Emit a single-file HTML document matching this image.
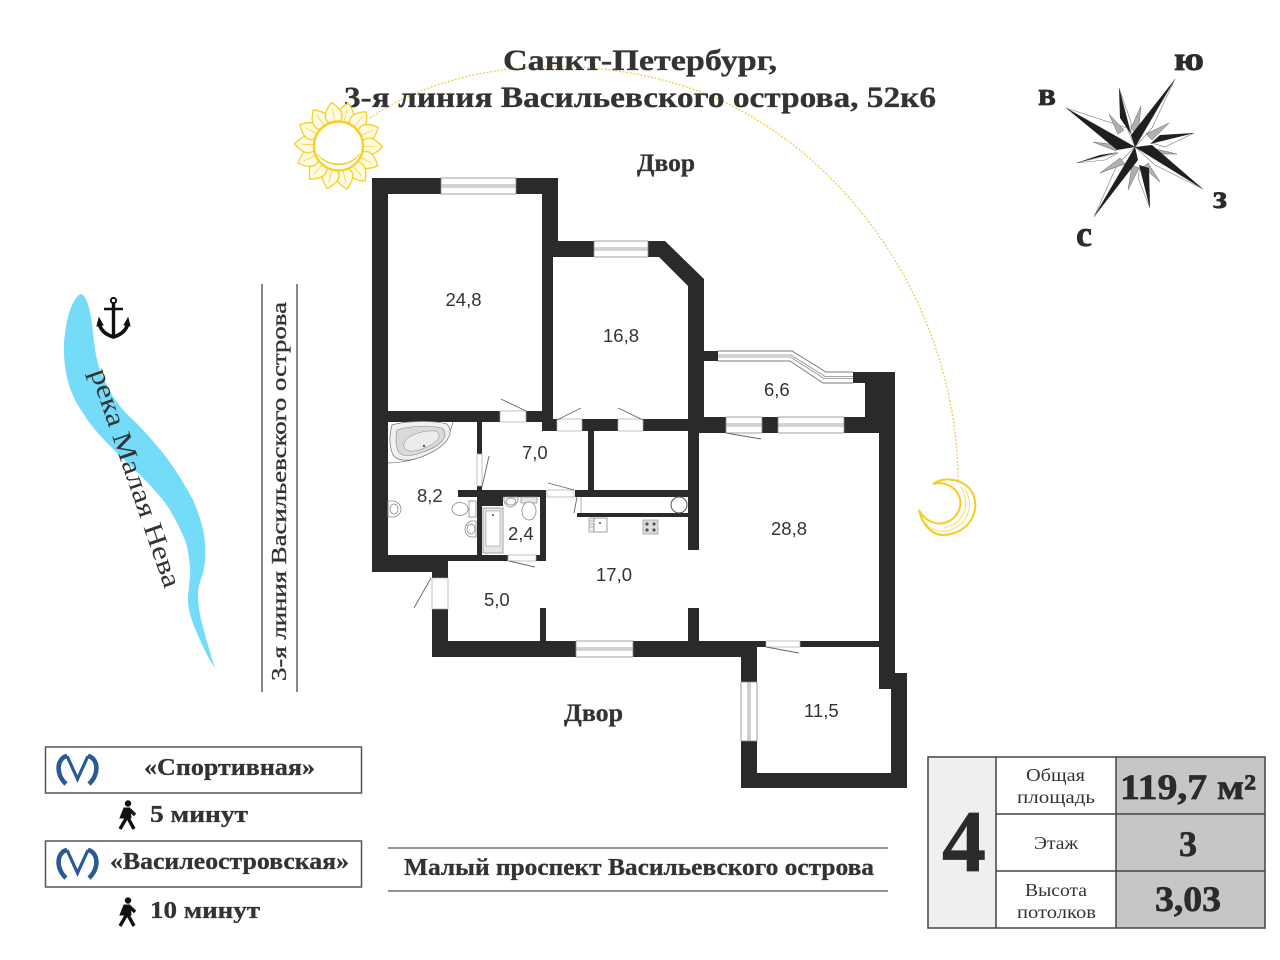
<!DOCTYPE html>
<html lang="ru">
<head>
<meta charset="utf-8">
<title>Планировка</title>
<style>
html,body{margin:0;padding:0;background:#fff;width:1280px;height:960px;overflow:hidden}
svg{display:block}
text{font-family:"Liberation Serif","Noto Serif CJK SC",serif;fill:#333}
.b{font-weight:bold;stroke:#333;stroke-width:.3}
.bb{font-weight:bold;stroke:#2b2b2b;stroke-width:.7;fill:#2b2b2b}
.n{font-family:"Liberation Sans",sans-serif;font-size:18.5px;fill:#333}
.w{fill:#2a2a2a}
.wh{fill:#fff}
.d{stroke:#666;stroke-width:.9;fill:none}
.f{fill:#fff;stroke:#888;stroke-width:.8}
.fg{fill:#e6e6e6;stroke:#888;stroke-width:.7}
</style>
</head>
<body>
<svg width="1280" height="960" viewBox="0 0 1280 960" xmlns="http://www.w3.org/2000/svg">
<rect width="1280" height="960" fill="#fff"/>

<!-- arc -->
<path d="M370 118 C470 50 620 55 720 100 C860 165 958 320 958 482" fill="none" stroke="#efc93a" stroke-width="1.3" stroke-dasharray="1.8 1.8"/>

<!-- title -->
<text class="b" x="503" y="70" font-size="30" textLength="274" lengthAdjust="spacingAndGlyphs">Санкт-Петербург,</text>
<text class="b" x="344" y="107" font-size="30" textLength="592" lengthAdjust="spacingAndGlyphs">3-я линия Васильевского острова, 52к6</text>
<text class="b" x="637" y="171" font-size="25" textLength="58" lengthAdjust="spacingAndGlyphs">Двор</text>
<text class="b" x="564" y="721" font-size="25" textLength="59" lengthAdjust="spacingAndGlyphs">Двор</text>

<!-- sun -->
<g transform="translate(338.5 146)" fill="#fffbe0" stroke="#f6cf28" stroke-width="1.3">
<defs><g id="pt"><path d="M-3 -22C-12 -28 -9 -36 0 -44C9 -36 12 -28 3 -22Z"/><path d="M0 -24V-38" fill="none" stroke-width=".7"/></g></defs>
<use href="#pt" transform="rotate(13)"/><use href="#pt" transform="rotate(39)"/><use href="#pt" transform="rotate(65)"/><use href="#pt" transform="rotate(91)"/><use href="#pt" transform="rotate(117)"/><use href="#pt" transform="rotate(143)"/><use href="#pt" transform="rotate(169)"/><use href="#pt" transform="rotate(195)"/><use href="#pt" transform="rotate(221)"/><use href="#pt" transform="rotate(247)"/><use href="#pt" transform="rotate(273)"/><use href="#pt" transform="rotate(299)"/><use href="#pt" transform="rotate(325)"/><use href="#pt" transform="rotate(351)"/>
<circle r="24.5" fill="#fff" stroke-width="2.4"/>
<path d="M-21 8C-12 22 12 22 21 8M-17 12C-8 20 8 20 17 12M-13 15C-6 20 6 20 13 15" fill="none" stroke-width="1"/>
</g>

<!-- moon -->
<path d="M933 484C945 475 965 480 972 492C982 512 968 533 945 535C932 536 922 524 919 510C925 522 938 526 947 522C958 518 963 505 959 496C955 486 943 481 933 484Z" fill="#fff" stroke="#f5cd1f" stroke-width="2"/>
<path d="M965 489C976 508 966 528 945 531C936 532 930 529 926 523M961 487C972 506 962 525 944 528" fill="none" stroke="#f8de6a" stroke-width="1"/>

<!-- compass -->
<g stroke-linejoin="miter">
<g fill="#fff" stroke="#777" stroke-width=".6">
<path d="M1175 79L1152 128L1135 147Z"/><path d="M1066 108L1127 128L1135 147Z"/><path d="M1203 189L1155 165L1135 147Z"/><path d="M1094 217L1117 165L1135 147Z"/>
<path d="M1119 88L1131 122L1131 134Z"/><path d="M1194 133L1165 147L1152 143Z"/><path d="M1150 208L1138 178L1140 166Z"/><path d="M1076 163L1105 160L1118 153Z"/>
</g>
<g fill="#b0b0b0" stroke="#666" stroke-width=".5">
<path d="M1141 106L1131 128L1138 136Z"/><path d="M1169 123L1146 134L1152 140Z"/><path d="M1177 154L1152 148L1150 154Z"/><path d="M1160 182L1148 163L1143 167Z"/><path d="M1128 190L1132 165L1139 168Z"/><path d="M1100 173L1120 158L1125 164Z"/><path d="M1093 142L1118 145L1116 151Z"/><path d="M1109 114L1124 130L1118 134Z"/>
</g>
<g fill="#1f1f1f">
<path d="M1175 79L1131 135L1135 147Z"/><path d="M1066 108L1117 150L1135 147Z"/><path d="M1203 189L1135 147L1152 145Z"/><path d="M1094 217L1138 160L1135 147Z"/>
<path d="M1119 88L1120 118L1131 134Z"/><path d="M1194 133L1150 144L1160 135Z"/><path d="M1150 208L1139 165L1149 168Z"/><path d="M1076 163L1119 152L1100 155Z"/>
</g>
</g>
<text class="bb" x="1174" y="70" font-size="33" textLength="30" lengthAdjust="spacingAndGlyphs">ю</text>
<text class="bb" x="1038" y="105" font-size="33" textLength="18" lengthAdjust="spacingAndGlyphs">в</text>
<text class="bb" x="1213" y="208" font-size="33" textLength="14" lengthAdjust="spacingAndGlyphs">з</text>
<text class="bb" x="1076" y="246" font-size="36" textLength="16" lengthAdjust="spacingAndGlyphs">с</text>

<!-- river -->
<path d="M81 294C87 296 90 310 92 323C94 345 96 358 100 370C108 390 116 403 128 415C142 428 153 441 163 453C176 470 185 485 193 500C200 516 204 530 205 543C206 556 205 565 203 573C200 582 198 588 198 593C198 605 200 617 203 627C207 642 211 656 215 668C208 658 202 645 197 633C192 622 188 610 188 600C188 588 191 578 190 567C189 557 188 549 185 540C179 526 172 512 163 500C150 484 133 468 117 453C104 440 92 428 83 413C74 400 69 388 67 377C64 365 64 355 64 343C65 330 67 319 70 310C73 302 77 295 81 294Z" fill="#74dcf8"/>
<text font-size="27" transform="translate(90 372) rotate(71)" textLength="230" lengthAdjust="spacingAndGlyphs">река Малая Нева</text>

<!-- anchor -->
<g stroke="#111" fill="none">
<circle cx="113.5" cy="300.5" r="2.6" stroke-width="2"/>
<path d="M113.5 303V335" stroke-width="3.4"/>
<path d="M104 309H123" stroke-width="2.6"/>
<path d="M99 322C100 331 107 335 113.5 337C120 335 127 331 128 322" stroke-width="3.6"/>
<path d="M97 326L99 318L103 325ZM130 326L128 318L124 325Z" fill="#111" stroke-width="1"/>
</g>

<!-- 3-я линия -->
<path d="M262 284V692M297 284V692" stroke="#555" stroke-width="1.4"/>
<text font-size="21" stroke="#333" stroke-width=".35" transform="translate(286 681) rotate(-90)" textLength="379" lengthAdjust="spacingAndGlyphs">3-я линия Васильевского острова</text>

<!-- walls -->
<g class="w">
<rect x="372" y="178" width="186" height="16"/>
<rect x="372" y="178" width="16" height="394"/>
<rect x="542" y="178" width="16" height="70"/>
<rect x="542" y="241" width="11" height="190"/>
<rect x="388" y="411" width="160" height="11"/>
<path d="M542 241H665L704 279V431H688V286L659 257H542Z"/>
<rect x="542" y="419" width="162" height="12"/>
<rect x="688" y="431" width="11" height="119"/>
<rect x="704" y="351" width="14" height="10"/>
<rect x="688" y="417" width="207" height="16"/>
<rect x="853" y="372" width="42" height="11"/>
<rect x="865" y="372" width="30" height="61"/>
<rect x="879" y="372" width="16" height="317"/>
<rect x="879" y="673" width="28" height="16"/>
<rect x="891" y="673" width="16" height="115"/>
<rect x="741" y="773" width="166" height="15"/>
<rect x="741" y="641" width="16" height="147"/>
<rect x="432" y="641" width="325" height="16"/>
<rect x="699" y="641" width="180" height="6"/>
<rect x="477" y="422" width="5" height="133"/>
<rect x="458" y="490" width="88" height="7"/>
<rect x="482" y="497" width="21" height="9"/>
<rect x="540" y="490" width="6" height="71"/>
<rect x="372" y="555" width="174" height="6"/>
<rect x="372" y="555" width="76" height="17"/>
<rect x="432" y="572" width="16" height="85"/>
<rect x="540" y="608" width="6" height="33"/>
<rect x="688" y="608" width="11" height="33"/>
<rect x="588" y="431" width="6" height="59"/>
<rect x="575" y="490" width="113" height="7"/>
<rect x="577" y="513" width="111" height="4"/>
</g>

<!-- door openings -->
<g class="wh" stroke="#aaa" stroke-width=".7">
<rect x="500" y="411" width="26" height="11"/>
<rect x="557" y="419" width="25" height="12"/>
<rect x="618" y="419" width="25" height="12"/>
<rect x="477" y="454" width="5" height="32"/>
<rect x="547" y="490" width="27" height="7"/>
<rect x="508" y="555" width="28" height="6"/>
<rect x="432" y="578" width="16" height="31"/>
<rect x="766" y="641" width="34" height="6"/>
</g>

<!-- windows -->
<g fill="#fff" stroke="#8a8a8a" stroke-width=".8">
<rect x="441" y="178" width="75" height="16"/><path d="M441 185H516M441 187H516"/>
<rect x="594" y="241" width="54" height="16"/><path d="M594 248H648M594 250H648"/>
<rect x="576" y="641" width="57" height="16"/><path d="M576 648H633M576 650H633"/>
<rect x="726" y="417" width="36" height="16"/><path d="M726 424H762M726 426H762"/>
<rect x="778" y="417" width="66" height="16"/><path d="M778 424H844M778 426H844"/>
<rect x="741" y="682" width="16" height="59"/><path d="M748 682V741M750 682V741"/>
</g>
<!-- balcony glazing -->
<path d="M718 351H792L826 372H853V383H823L790 361H718Z" fill="#fff"/>
<path d="M718 351H792L826 372H853M718 361H790L823 383H853" fill="none" stroke="#777" stroke-width=".9"/>
<path d="M718 355H791L825 376.500H853M718 357H790.500L824 378.500H853" fill="none" stroke="#888" stroke-width=".8"/>

<!-- door leaves -->
<g class="d">
<path d="M501 399L526 411"/><path d="M557 420L581 408"/><path d="M618 408L643 420"/>
<path d="M489 456L482 487"/><path d="M548 483L574 490"/><path d="M509 561L535 567"/>
<path d="M431 578L414 608"/><path d="M726 433L761 439"/><path d="M766 647L799 653"/>
<path d="M577 497L574 513"/><path d="M581 497V513" stroke="#aaa"/>
</g>

<!-- fixtures -->
<path d="M453 422C447 450 420 462 388 463" fill="none" stroke="#777" stroke-width=".7"/>
<path d="M392 425C405 421 432 420 447 424C455 433 447 446 426 455C411 462 398 462 393 455C388 443 390 433 392 425Z" fill="#f0f0f0" stroke="#777" stroke-width=".7"/>
<path d="M397 430C408 426 428 425 442 428C450 436 441 446 423 452C411 457 401 457 398 451C395 442 396 436 397 430Z" fill="#d9d9d9" stroke="#888" stroke-width=".6"/>
<path d="M404 447C402 437 420 430 435 431C444 434 438 443 422 449C414 452 406 452 404 447Z" fill="#ececec" stroke="#888" stroke-width=".5"/>
<circle cx="424" cy="446" r="1.2" fill="#555"/>
<path d="M388 501H394C399 503 401 506 401 509C401 513 398 516 394 517H388Z" class="f"/><ellipse cx="394" cy="509" rx="4" ry="5" class="f"/>
<ellipse cx="460" cy="509" rx="8" ry="6.500" class="f"/><rect x="469" y="501" width="7" height="16" class="f"/>
<path d="M476 521H471C467 523 465 526 465 529C465 533 467 536 471 537H476Z" class="f"/><ellipse cx="471" cy="529" rx="4" ry="5" class="f"/>
<rect x="483" y="508" width="20" height="45" class="fg"/><rect x="486" y="511" width="14" height="35" fill="#fff" stroke="#999" stroke-width=".6"/><circle cx="493" cy="515" r="1" fill="#555"/>
<path d="M504 497H518V501C516 505 513 507 511 507C508 507 505 505 504 501Z" class="f"/><ellipse cx="511" cy="501.500" rx="5" ry="3.500" class="f"/>
<rect x="521" y="497" width="16" height="6" class="fg"/><ellipse cx="529" cy="511" rx="7" ry="9" class="f"/>
<rect x="589" y="518" width="5" height="14" fill="#eee" stroke="#888" stroke-width=".6"/><path d="M589 521H594M589 524H594M589 527H594" stroke="#888" stroke-width=".5"/>
<rect x="594" y="518" width="13" height="14" fill="#fff" stroke="#888" stroke-width=".8"/><circle cx="600" cy="523" r="1" fill="#555"/>
<rect x="643" y="520" width="15" height="14" fill="#ddd" stroke="#888" stroke-width=".6"/>
<g fill="#555"><circle cx="647" cy="524" r="1.600"/><circle cx="654" cy="524" r="1.600"/><circle cx="647" cy="530" r="1.600"/><circle cx="654" cy="530" r="1.600"/></g>
<circle cx="679" cy="505" r="8" fill="#fff" stroke="#555" stroke-width="1"/>

<!-- room labels -->
<text class="n" x="445.500" y="306">24,8</text>
<text class="n" x="603" y="342">16,8</text>
<text class="n" x="764" y="396">6,6</text>
<text class="n" x="522" y="459">7,0</text>
<text class="n" x="417" y="502">8,2</text>
<text class="n" x="508" y="540">2,4</text>
<text class="n" x="596" y="581">17,0</text>
<text class="n" x="484" y="606">5,0</text>
<text class="n" x="771" y="535">28,8</text>
<text class="n" x="804" y="717">11,5</text>

<!-- metro -->
<rect x="45.500" y="747" width="316" height="46" fill="#fff" stroke="#555" stroke-width="1.500"/>
<rect x="45.500" y="841" width="316" height="46" fill="#fff" stroke="#555" stroke-width="1.500"/>
<g fill="none" stroke="#2a5a96">
<path d="M66 784C55 774 57 758 67 756M89 784C100 774 98 758 88 756" stroke-width="4.600"/>
<path d="M67 756L77.500 779L88 756" stroke-width="3.200"/>
<path d="M66 878C55 868 57 852 67 850M89 878C100 868 98 852 88 850" stroke-width="4.600"/>
<path d="M67 850L77.500 873L88 850" stroke-width="3.200"/>
</g>
<text class="b" x="144" y="775" font-size="24" textLength="171" lengthAdjust="spacingAndGlyphs">«Спортивная»</text>
<text class="b" x="110" y="869" font-size="24" textLength="239" lengthAdjust="spacingAndGlyphs">«Василеостровская»</text>
<text class="b" x="150" y="822" font-size="24" textLength="98" lengthAdjust="spacingAndGlyphs">5 минут</text>
<text class="b" x="150" y="918" font-size="24" textLength="110" lengthAdjust="spacingAndGlyphs">10 минут</text>
<g fill="#111" stroke="#111">
<g><circle cx="128" cy="803.500" r="3.200" stroke="none"/><path d="M124 808L130 808L131 818L120 818Z" stroke-width="1"/><path d="M127 817L120 829M128 818L134 829M130 810L135 815" fill="none" stroke-width="3.400"/></g>
<g transform="translate(0 97)"><circle cx="128" cy="803.500" r="3.200" stroke="none"/><path d="M124 808L130 808L131 818L120 818Z" stroke-width="1"/><path d="M127 817L120 829M128 818L134 829M130 810L135 815" fill="none" stroke-width="3.400"/></g>
</g>

<!-- bottom street -->
<path d="M388 848H888M388 891H888" stroke="#555" stroke-width="1.200"/>
<text class="b" x="404" y="875" font-size="24" textLength="470" lengthAdjust="spacingAndGlyphs">Малый проспект Васильевского острова</text>

<!-- table -->
<rect x="928" y="757" width="68" height="171" fill="#eef0ef"/>
<rect x="996" y="757" width="120" height="171" fill="#fff"/>
<rect x="1116" y="757" width="149" height="171" fill="#c5c7c6"/>
<path d="M928 757H1265V928H928ZM996 757V928M1116 757V928M996 814H1265M996 871H1265" fill="none" stroke="#444" stroke-width="1.500"/>
<text class="bb" x="942" y="871" font-size="88" textLength="44" lengthAdjust="spacingAndGlyphs">4</text>
<g font-size="18">
<text x="1026" y="781" textLength="59" lengthAdjust="spacingAndGlyphs">Общая</text>
<text x="1017" y="803" textLength="78" lengthAdjust="spacingAndGlyphs">площадь</text>
<text x="1034" y="849" textLength="44" lengthAdjust="spacingAndGlyphs">Этаж</text>
<text x="1025" y="896" textLength="62" lengthAdjust="spacingAndGlyphs">Высота</text>
<text x="1017" y="918" textLength="79" lengthAdjust="spacingAndGlyphs">потолков</text>
</g>
<text class="bb" x="1120" y="799" font-size="36" textLength="136" lengthAdjust="spacingAndGlyphs">119,7 м²</text>
<text class="bb" x="1188" y="856" font-size="36" text-anchor="middle">3</text>
<text class="bb" x="1155" y="911" font-size="36" textLength="66" lengthAdjust="spacingAndGlyphs">3,03</text>
</svg>
</body>
</html>
